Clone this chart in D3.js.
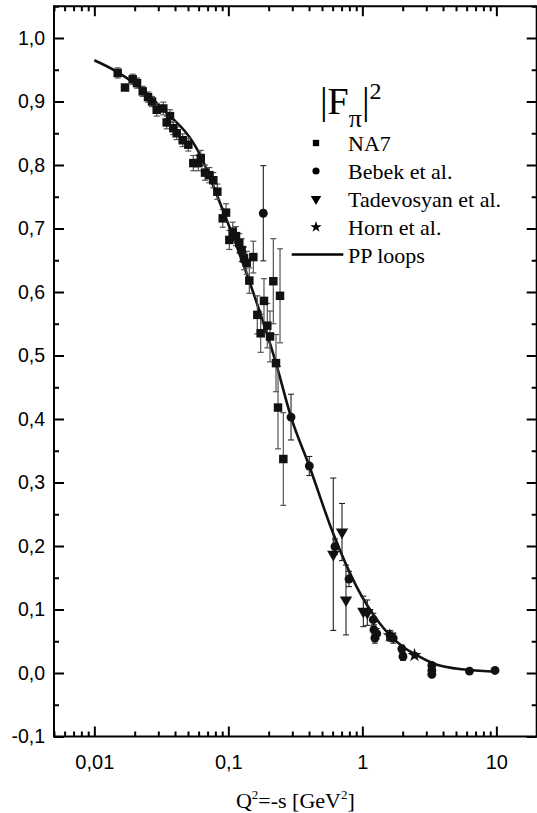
<!DOCTYPE html>
<html><head><meta charset="utf-8">
<script src="https://cdn.jsdelivr.net/npm/d3@7"></script>
<style>html,body{margin:0;padding:0;background:#fff;} svg{display:block}</style>
</head><body>
<svg id="c" width="537" height="813"></svg>
<script>
// ---------- data ----------
const na7Q   = [0.01494,0.01694,0.01933,0.02082,0.02296,0.02515,0.02694,0.0292,0.03271,0.03467,0.0367,0.03884,0.04117,0.04564,0.05027,0.05477,0.05971,0.06223,0.06697,0.07211,0.07722,0.08275,0.09078,0.0961,0.1017,0.1078,0.1141,0.1207,0.1258,0.1309,0.1371,0.1434,0.1536,0.1645,0.1743,0.1845,0.1953,0.2046,0.2166,0.2268,0.2348,0.243,0.2572];
const na7F   = [0.945,0.922,0.935,0.929,0.916,0.907,0.900,0.887,0.889,0.867,0.877,0.858,0.850,0.839,0.832,0.803,0.803,0.811,0.788,0.784,0.776,0.758,0.716,0.725,0.682,0.695,0.688,0.677,0.666,0.653,0.646,0.618,0.655,0.564,0.535,0.586,0.547,0.530,0.617,0.488,0.418,0.594,0.337];
const na7Err = [0.008,0,0.008,0.008,0.008,0.008,0.008,0.010,0.010,0.010,0.010,0.010,0.010,0.010,0.010,0.012,0.012,0.012,0.012,0.012,0.012,0.012,0.014,0.014,0.015,0.015,0.015,0.015,0.018,0.018,0.018,0.020,0.025,0.030,0.030,0.035,0.035,0.040,0.067,0.045,0.065,0.074,0.073];

const bebekQ   = [0.1823,0.2936,0.4019,0.625,0.795,1.207,1.22,1.24,1.28,1.62,1.70,1.97,2.01,3.3,3.3,3.3,6.3,9.77];
const bebekF   = [0.724,0.403,0.326,0.199,0.148,0.084,0.068,0.055,0.062,0.058,0.055,0.038,0.026,0.012,0.004,-0.002,0.003,0.004];
const bebekErr = [0.075,0.036,0.015,0.012,0.012,0.010,0.008,0.008,0.008,0.008,0.008,0.006,0.006,0.004,0.004,0.004,0.003,0.003];

const tadQ   = [0.607,0.705,0.755,1.017,1.089];
const tadF   = [0.187,0.222,0.115,0.097,0.095];
const tadErr = [0.120,0.045,0.055,0.024,0.020];

const hornQ   = [1.60,2.45];
const hornF   = [0.059,0.028];
const hornErr = [0.008,0.004];

const curveQ = [0.01,0.0147,0.026,0.031,0.0615,0.0867,0.137,0.2268,0.2936,0.4019,0.605,0.905,1.35,2.02,2.545,3.386,6.01,10.06];
const curveF = [0.965,0.947,0.908,0.892,0.816,0.740,0.629,0.488,0.403,0.326,0.220,0.136,0.078,0.041,0.028,0.015,0.005,0.002];

const xTickVals = [0.01,0.1,1,10];
const xTickLabels = ["0,01","0,1","1","10"];
const yTickVals = [-0.1,0,0.1,0.2,0.3,0.4,0.5,0.6,0.7,0.8,0.9,1.0];
const yTickLabels = ["-0,1","0,0","0,1","0,2","0,3","0,4","0,5","0,6","0,7","0,8","0,9","1,0"];
const yMinorVals = [-0.05,0.05,0.15,0.25,0.35,0.45,0.55,0.65,0.75,0.85,0.95,1.05];
const legendLabels = ["NA7","Bebek et al.","Tadevosyan et al.","Horn et al.","PP loops"];

// ---------- layout ----------
const L=54, R=536.7, T=6.25, B=736.5;
const x = d3.scaleLog().domain([0.005,20]).range([L,R]);
const y = d3.scaleLinear().domain([-0.1,1.05]).range([B,T]);
const svg = d3.select('#c');
const ink = '#000';
const sans = "'Liberation Sans', Arial, sans-serif";
const serif = "'Liberation Serif', 'Times New Roman', serif";

const xMinor = x.ticks().filter(v => !xTickVals.some(m => Math.abs(m-v)/m < 1e-6));

function styleAxis(size){
  return g => {
    g.select('.domain').remove();
    g.selectAll('.tick line').attr('stroke',ink).attr('stroke-width',2);
    g.selectAll('.tick text').attr('fill',ink).attr('font-family',sans).attr('font-size',size);
  };
}
// bottom
svg.append('g').attr('transform',`translate(0,${B})`)
  .call(d3.axisBottom(x).tickValues(xTickVals).tickSize(-10).tickPadding(18).tickFormat((d,i)=>xTickLabels[i])).call(styleAxis(20));
svg.append('g').attr('transform',`translate(0,${B})`)
  .call(d3.axisBottom(x).tickValues(xMinor).tickSize(-5).tickFormat('')).call(styleAxis(20));
// top
svg.append('g').attr('transform',`translate(0,${T})`)
  .call(d3.axisTop(x).tickValues(xTickVals).tickSize(-10).tickFormat('')).call(styleAxis(20));
svg.append('g').attr('transform',`translate(0,${T})`)
  .call(d3.axisTop(x).tickValues(xMinor).tickSize(-5).tickFormat('')).call(styleAxis(20));
// left
svg.append('g').attr('transform',`translate(${L},0)`)
  .call(d3.axisLeft(y).tickValues(yTickVals).tickSize(-10).tickPadding(9).tickFormat((d,i)=>yTickLabels[i])).call(styleAxis(19.5));
svg.append('g').attr('transform',`translate(${L},0)`)
  .call(d3.axisLeft(y).tickValues(yMinorVals).tickSize(-5).tickFormat('')).call(styleAxis(19.5));
// right
svg.append('g').attr('transform',`translate(${R},0)`)
  .call(d3.axisRight(y).tickValues(yTickVals).tickSize(-10).tickFormat('')).call(styleAxis(19.5));
svg.append('g').attr('transform',`translate(${R},0)`)
  .call(d3.axisRight(y).tickValues(yMinorVals).tickSize(-5).tickFormat('')).call(styleAxis(19.5));

// frame
svg.append('rect').attr('x',L).attr('y',T).attr('width',R-L).attr('height',B-T)
  .attr('fill','none').attr('stroke',ink).attr('stroke-width',2);

// axis title
const xt = svg.append('text').attr('x',(L+R)/2).attr('y',808).attr('text-anchor','middle')
  .attr('font-family',serif).attr('font-size',22).attr('fill',ink);
xt.append('tspan').text('Q');
xt.append('tspan').attr('dy',-9).attr('font-size',13).text('2');
xt.append('tspan').attr('dy',9).text('=-s [GeV');
xt.append('tspan').attr('dy',-9).attr('font-size',13).text('2');
xt.append('tspan').attr('dy',9).text(']');

// ---------- curve ----------
const line = d3.line().x((d,i)=>x(curveQ[i])).y((d,i)=>y(curveF[i])).curve(d3.curveMonotoneX);
svg.append('path').attr('d',line(curveQ)).attr('fill','none').attr('stroke','#111').attr('stroke-width',2.6);

// ---------- error bars ----------
function errBars(qs, fs, es, color, w){
  const g = svg.append('g').attr('stroke',color).attr('stroke-width',w);
  qs.forEach((q,i)=>{
    if(!es[i]) return;
    const cx = x(q), y1 = y(fs[i]-es[i]), y2 = y(fs[i]+es[i]);
    g.append('line').attr('x1',cx).attr('x2',cx).attr('y1',y1).attr('y2',y2);
    g.append('line').attr('x1',cx-3).attr('x2',cx+3).attr('y1',y1).attr('y2',y1);
    g.append('line').attr('x1',cx-3).attr('x2',cx+3).attr('y1',y2).attr('y2',y2);
  });
}
errBars(na7Q, na7F, na7Err, '#555', 1.2);
errBars(bebekQ, bebekF, bebekErr, '#222', 1.1);
errBars(tadQ, tadF, tadErr, '#222', 1.1);
errBars(hornQ, hornF, hornErr, '#222', 1.1);

// ---------- markers ----------
const sq = d3.symbol().type(d3.symbolSquare).size(72);
const ci = d3.symbol().type(d3.symbolCircle).size(62);
const tr = d3.symbol().type(d3.symbolTriangle).size(66);
const st = d3.symbol().type(d3.symbolStar).size(60);
function marks(qs, fs, gen, rot){
  svg.append('g').selectAll('path').data(qs).join('path')
    .attr('d',gen()).attr('fill','#111')
    .attr('transform',(d,i)=>`translate(${x(d)},${y(fs[i])})${rot?' rotate(180)':''}`);
}
marks(na7Q, na7F, sq);
marks(bebekQ, bebekF, ci);
marks(tadQ, tadF, tr, true);
marks(hornQ, hornF, st);

// ---------- legend ----------
const tt = svg.append('text').attr('x',320).attr('y',114).attr('font-family',serif).attr('font-size',38).attr('fill',ink);
tt.append('tspan').text('|');
tt.append('tspan').text('F');
tt.append('tspan').attr('dy',12.5).attr('font-size',26).text('π');
tt.append('tspan').attr('dy',-12.5).text('|');
tt.append('tspan').attr('dy',-15).attr('font-size',24).text('2');

const legMarkY = [143, 171, 199, 227, 254.5];
const lg = svg.append('g');
const legGens = [d3.symbol().type(d3.symbolSquare).size(40), d3.symbol().type(d3.symbolCircle).size(40), d3.symbol().type(d3.symbolTriangle).size(48), d3.symbol().type(d3.symbolStar).size(40)];
legGens.forEach((gen,i)=>{
  lg.append('path').attr('d',gen()).attr('fill',ink)
    .attr('transform',`translate(316,${legMarkY[i]})${i===2?' rotate(180)':''}`);
});
lg.append('line').attr('x1',291.7).attr('x2',343.3).attr('y1',legMarkY[4]).attr('y2',legMarkY[4])
  .attr('stroke',ink).attr('stroke-width',2.6);
lg.selectAll('text').data(legendLabels).join('text')
  .attr('x',348).attr('y',(d,i)=>legMarkY[i]+8).attr('font-family',serif).attr('font-size',22).attr('fill',ink)
  .text(d=>d);
</script>
</body></html>
